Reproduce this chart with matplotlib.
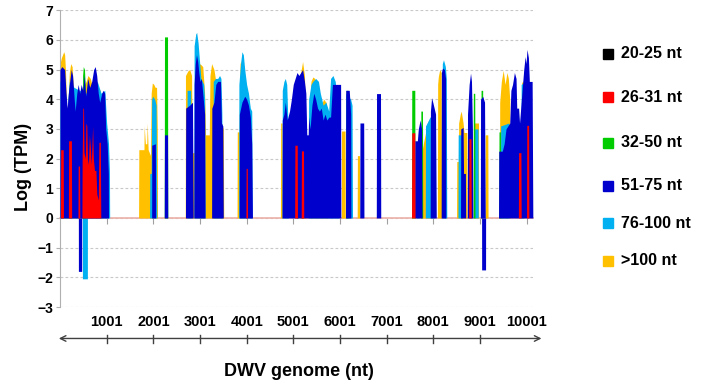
import numpy as np
import matplotlib
matplotlib.use("Agg")
import matplotlib.pyplot as plt
from matplotlib.lines import Line2D

plt.rcParams["font.family"] = ["Liberation Sans", "DejaVu Sans"]
plt.rcParams["font.weight"] = "bold"

# coverage profiles along the DWV genome: (nt position, log TPM)
cov_gt100 = [
    (0, 5.2), (30, 5.4), (80, 5.6), (100, 5.5), (120, 4.9), (140, 3.8), (165, 3.6), (200, 4.9),
    (230, 5.2), (260, 5.1), (300, 4.0), (330, 3.8), (420, 4.2), (560, 4.6), (600, 4.8), (650, 4.7),
    (700, 4.4), (780, 4.6), (820, 4.4), (860, 4.3), (880, 3.3), (900, 3.0), (920, 0),
    (1685, 0), (1690, 2.3), (1800, 2.3), (1805, 3.1), (1830, 2.5), (1860, 2.5), (1870, 3.2),
    (1890, 2.3), (1940, 2.1), (1955, 4.2), (1980, 4.55), (2010, 4.5), (2040, 4.4), (2070, 4.4),
    (2085, 3.0), (2090, 0),
    (2685, 0), (2690, 4.8), (2740, 4.95), (2780, 5.0), (2820, 4.8), (2835, 2.2), (2880, 2.2),
    (2900, 4.5), (2950, 5.0), (3000, 5.2), (3060, 5.1), (3100, 4.2), (3120, 2.8), (3200, 2.8),
    (3215, 4.8), (3250, 5.2), (3300, 5.0), (3350, 4.5), (3400, 4.4), (3460, 3.2), (3500, 3.0), (3510, 0),
    (3795, 0), (3800, 2.9), (3840, 2.9), (3860, 5.2), (3880, 5.3), (3900, 4.5), (3950, 3.0), (3960, 0),
    (4725, 0), (4730, 3.2), (4760, 3.2), (4770, 0),
    (5150, 0), (5160, 4.9), (5200, 5.27), (5240, 4.8), (5260, 3.5), (5270, 0),
    (5330, 0), (5340, 3.5), (5380, 4.6), (5420, 4.75), (5460, 4.7), (5500, 4.5), (5560, 4.2),
    (5600, 3.8), (5650, 4.0), (5700, 3.9), (5740, 3.2), (5750, 0),
    (6030, 0), (6035, 2.93), (6110, 2.93), (6115, 0),
    (6370, 0), (6375, 2.1), (6420, 2.1), (6425, 0),
    (7760, 0), (7765, 2.3), (7800, 2.6), (7840, 2.9), (7900, 3.3), (7940, 3.3), (7950, 0),
    (8090, 0), (8095, 4.5), (8110, 4.77), (8140, 5.0), (8170, 4.9), (8180, 0),
    (8500, 0), (8505, 1.9), (8540, 1.9), (8545, 3.2), (8580, 3.5), (8600, 3.6), (8640, 3.2),
    (8660, 2.88), (8720, 2.88), (8725, 0),
    (8870, 0), (8875, 3.2), (8970, 3.2), (8975, 0),
    (9110, 0), (9115, 2.8), (9170, 2.8), (9175, 0),
    (9420, 0), (9425, 3.9), (9460, 4.6), (9500, 4.97), (9540, 4.5), (9580, 4.9), (9610, 4.7),
    (9640, 4.0), (9650, 0),
    (9890, 0), (9895, 4.55), (9920, 4.62), (9950, 4.5), (9955, 0),
]

cov_76_100 = [
    (0, 4.6), (100, 4.7), (130, 3.9), (150, 3.6), (200, 4.6), (300, 4.4), (420, 4.3), (560, 4.2),
    (600, 4.3), (650, 4.1), (700, 4.4), (800, 4.6), (880, 4.2), (960, 4.3), (1000, 3.2),
    (1040, 2.5), (1060, 1.6), (1065, 0),
    (1920, 0), (1925, 1.5), (1955, 1.5), (1965, 4.0), (1990, 4.1), (2030, 4.0), (2060, 3.8), (2075, 0),
    (2720, 0), (2725, 4.3), (2800, 4.3), (2830, 0),
    (2870, 0), (2875, 5.8), (2910, 6.2), (2930, 6.25), (2960, 5.9), (2990, 5.3), (3020, 4.7),
    (3050, 4.6), (3080, 4.5), (3100, 4.0), (3110, 0),
    (3280, 0), (3285, 4.6), (3330, 4.7), (3380, 4.7), (3420, 4.8), (3450, 4.7), (3470, 3.5), (3480, 0),
    (3830, 0), (3835, 4.5), (3870, 5.2), (3900, 5.6), (3930, 5.5), (3960, 5.0), (4000, 4.5),
    (4040, 4.2), (4080, 3.7), (4110, 3.6), (4120, 0),
    (4760, 0), (4765, 4.3), (4800, 4.6), (4830, 4.7), (4860, 4.5), (4880, 3.5), (4900, 0),
    (5320, 0), (5330, 4.0), (5380, 4.5), (5420, 4.6), (5480, 4.7), (5540, 4.6), (5580, 4.2),
    (5640, 3.8), (5700, 3.9), (5760, 3.6), (5800, 4.7), (5850, 4.8), (5900, 4.6), (5950, 3.8), (5980, 0),
    (6120, 0), (6125, 4.2), (6230, 4.0), (6260, 3.8), (6270, 0),
    (7640, 0), (7645, 1.9), (7690, 1.9), (7700, 0),
    (7830, 0), (7835, 3.1), (7900, 3.3), (7930, 3.4), (7990, 3.4), (8020, 0),
    (8190, 0), (8195, 5.2), (8220, 5.33), (8260, 5.1), (8280, 4.7), (8290, 0),
    (8530, 0), (8535, 2.8), (8620, 2.8), (8625, 0),
    (8870, 0), (8875, 3.0), (8960, 3.0), (8965, 0),
    (9440, 0), (9445, 3.1), (9620, 3.2), (9630, 0),
    (9880, 0), (9885, 4.5), (9930, 4.55), (9940, 0),
]

cov_32_50 = [
    (480, 0), (485, 4.8), (500, 5.1), (525, 5.0), (540, 4.5), (545, 0),
    (2235, 0), (2240, 6.1), (2305, 6.1), (2310, 0),
    (5070, 0), (5075, 4.7), (5100, 4.7), (5105, 0),
    (6130, 0), (6135, 4.3), (6170, 4.3), (6175, 0),
    (7535, 0), (7540, 4.3), (7605, 4.3), (7610, 0),
    (7730, 0), (7735, 3.6), (7770, 3.6), (7775, 0),
    (8855, 0), (8860, 4.2), (8890, 4.2), (8895, 0),
    (9020, 0), (9025, 4.3), (9060, 4.3), (9065, 0),
    (9405, 0), (9410, 2.9), (9440, 2.9), (9445, 0),
]

cov_51_75 = [
    (0, 5.0), (40, 5.1), (100, 5.0), (130, 4.2), (155, 3.7), (185, 4.3), (240, 5.0), (270, 4.8),
    (305, 4.0), (325, 3.6), (360, 4.2), (390, 4.5), (422, 4.2), (455, 4.5), (487, 4.3), (520, 4.8),
    (550, 4.1), (595, 4.7), (637, 4.4), (680, 4.6), (722, 5.0), (755, 5.1), (787, 4.8), (820, 4.2),
    (851, 3.9), (895, 4.2), (925, 4.3), (958, 4.2), (980, 3.0), (1012, 2.5), (1037, 1.5), (1040, 0),
    (1965, 0), (1968, 2.45), (2045, 2.5), (2050, 0),
    (2235, 0), (2240, 2.8), (2305, 2.8), (2310, 0),
    (2690, 0), (2695, 3.7), (2780, 3.8), (2840, 3.9), (2855, 0), (2870, 0), (2875, 4.5),
    (2900, 5.2), (2925, 5.5), (2950, 5.3), (2975, 4.9), (3000, 4.6), (3030, 4.7), (3060, 4.2),
    (3100, 3.5), (3110, 0),
    (3250, 0), (3255, 3.7), (3300, 3.9), (3340, 4.5), (3380, 4.6), (3440, 4.6), (3460, 3.2),
    (3490, 3.1), (3500, 0),
    (3840, 0), (3845, 3.5), (3900, 3.9), (3960, 4.1), (4000, 4.0), (4040, 3.8), (4080, 3.4),
    (4110, 2.5), (4125, 0),
    (4760, 0), (4765, 3.3), (4800, 3.5), (4830, 3.9), (4870, 3.3), (4920, 3.6), (4960, 4.0),
    (5000, 4.5), (5040, 4.7), (5080, 4.9), (5120, 4.8), (5160, 4.9), (5200, 5.0), (5240, 4.6),
    (5270, 4.2), (5290, 2.8), (5320, 2.8), (5330, 3.4), (5360, 3.0), (5400, 3.8), (5440, 4.2),
    (5480, 4.0), (5520, 3.7), (5560, 3.6), (5600, 3.7), (5640, 3.3), (5680, 3.5), (5720, 3.3),
    (5765, 3.4), (5800, 3.4), (5840, 4.5), (5900, 4.5), (5960, 4.5), (6015, 4.5), (6020, 0),
    (6120, 0), (6125, 4.3), (6200, 4.3), (6230, 3.5), (6235, 0),
    (6425, 0), (6430, 3.2), (6510, 3.2), (6515, 0),
    (6780, 0), (6785, 4.19), (6870, 4.19), (6875, 0),
    (7600, 0), (7605, 2.6), (7660, 2.6), (7680, 3.0), (7720, 3.3), (7750, 3.0), (7760, 0),
    (7935, 0), (7940, 3.6), (7965, 4.05), (7990, 3.9), (8020, 3.7), (8050, 3.5), (8065, 0),
    (8170, 0), (8175, 4.9), (8200, 5.05), (8240, 5.0), (8265, 4.7), (8270, 0),
    (8585, 0), (8590, 3.0), (8640, 3.05), (8650, 1.5), (8690, 1.5), (8695, 0),
    (8730, 0), (8735, 3.5), (8770, 4.5), (8800, 4.88), (8820, 4.6), (8840, 3.0), (8850, 0),
    (9010, 0), (9015, 4.0), (9060, 4.1), (9100, 3.9), (9115, 0),
    (9400, 0), (9405, 2.25), (9480, 2.25), (9520, 2.5), (9560, 3.0), (9600, 3.1), (9640, 3.2),
    (9665, 4.3), (9700, 4.5), (9740, 4.9), (9775, 4.7), (9790, 3.7), (9830, 3.7), (9850, 3.2),
    (9880, 3.8), (9940, 5.0), (9970, 5.44), (9990, 5.2), (10010, 5.68), (10040, 5.4),
    (10060, 4.6), (10120, 4.6), (10135, 0),
]

cov_26_31 = [
    (10, 0), (15, 2.3), (70, 2.3), (75, 0),
    (180, 0), (185, 2.6), (245, 2.6), (250, 0),
    (385, 0), (390, 1.75), (420, 1.75), (425, 0),
    (470, 0), (475, 2.0), (490, 3.7), (505, 3.7), (515, 2.2), (545, 2.0), (555, 3.2), (575, 3.1),
    (590, 2.0), (610, 1.8), (630, 2.8), (650, 2.4), (670, 1.8), (700, 3.1), (715, 2.0), (740, 1.6),
    (770, 1.6), (790, 0.8), (820, 0.6), (835, 2.55), (865, 2.55), (875, 0),
    (3985, 0), (3990, 1.67), (4015, 1.67), (4020, 0),
    (5030, 0), (5035, 2.45), (5085, 2.45), (5090, 0),
    (5170, 0), (5175, 2.26), (5220, 2.26), (5225, 0),
    (7535, 0), (7540, 2.87), (7605, 2.87), (7610, 0),
    (8760, 0), (8765, 2.67), (8810, 2.67), (8815, 0),
    (9825, 0), (9830, 2.2), (9880, 2.2), (9885, 0),
    (10000, 0), (10005, 3.12), (10045, 3.12), (10050, 0),
]

# antisense (negative) coverage
neg_51_75 = [(394, 0), (395, -1.8), (465, -1.8), (466, 0),
             (9037, 0), (9038, -1.75), (9122, -1.75), (9123, 0)]
neg_76_100 = [(480, 0), (481, -2.05), (587, -2.05), (588, 0)]

labels = ["20-25 nt", "26-31 nt", "32-50 nt", "51-75 nt", "76-100 nt", ">100 nt"]
colors = ["#000000", "#ff0000", "#00cc00", "#0000cc", "#00b0f0", "#ffc000"]
tick_nt = [1001, 2001, 3001, 4001, 5001, 6001, 7001, 8001, 9001, 10001]
genome_len = 10140

fig = plt.figure(figsize=(7.04, 3.87), dpi=100)
ax = fig.add_axes([0.0852, 0.2067, 0.672, 0.767])

# back to front, as in the original overlapping areas
layers = [
    (cov_gt100, colors[5], 2),
    (cov_76_100, colors[4], 3),
    (neg_76_100, colors[4], 3),
    (cov_32_50, colors[2], 4),
    (cov_51_75, colors[3], 5),
    (neg_51_75, colors[3], 5),
    (cov_26_31, colors[1], 6),
]
for pts, col, z in layers:
    x, y = np.array(pts, dtype=float).T
    ax.fill_between(x, 0, y, color=col, lw=0, zorder=z)

ax.set_xlim(0, genome_len)
ax.set_ylim(-3, 7)
ax.set_yticks(range(-3, 8))
ax.yaxis.grid(True, color="#c8c8c8", linestyle=(0, (2.5, 2)), lw=0.8)
ax.set_axisbelow(True)

for s in ["top", "right"]:
    ax.spines[s].set_visible(False)
ax.spines["left"].set_color("#b0b0b0")
ax.spines["bottom"].set_position(("data", 0))
ax.spines["bottom"].set_color("#eab0a8")
ax.spines["bottom"].set_linewidth(1.2)
ax.spines["bottom"].set_zorder(1.5)

ax.set_xticks(tick_nt)
ax.tick_params(axis="x", length=4, color="#a0a0a0", labelbottom=False)
ax.tick_params(axis="y", length=3, color="#b0b0b0", labelsize=10, pad=2)
for lab in ax.get_yticklabels():
    lab.set_fontweight("bold")

for t in tick_nt:
    ax.text(t, -3.5, str(t), ha="center", va="center", fontsize=10.5,
            fontweight="bold", clip_on=False)

# genome arrow with position marks
ax.annotate("", xy=(10320, -4.06), xytext=(-25, -4.06), xycoords="data",
            arrowprops=dict(arrowstyle="<->", color="#404040", lw=1.0,
                            shrinkA=0, shrinkB=0, mutation_scale=10),
            annotation_clip=False)
for t in tick_nt[:-1]:
    ax.plot([t, t], [-3.94, -4.2], color="#404040", lw=1.0, clip_on=False)

fig.text(0.4247, 0.0388, "DWV genome (nt)", ha="center", va="center",
         fontsize=13, fontweight="bold")
fig.text(0.033, 1 - 167 / 387, "Log (TPM)", ha="center", va="center",
         rotation=90, fontsize=13, fontweight="bold")

legend_y = [53.7, 97.3, 142.7, 185.7, 223.3, 260.7]
for lab, col, py in zip(labels, colors, legend_y):
    yf = 1 - py / 387
    fig.add_artist(Line2D([0.8643], [yf], marker="s", markersize=6.5, color=col,
                          linestyle="none", transform=fig.transFigure))
    fig.text(0.8817, yf, lab, ha="left", va="center", fontsize=11.5, fontweight="bold")

fig.savefig("out.png", dpi=100)
